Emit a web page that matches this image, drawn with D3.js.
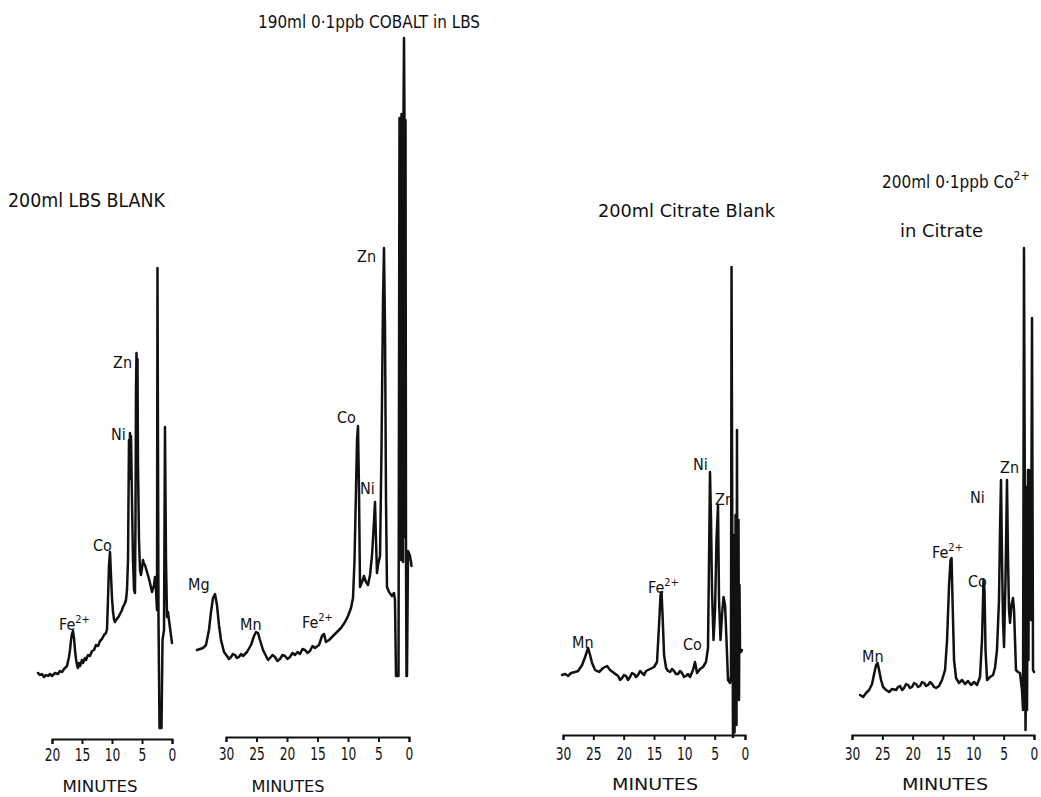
<!DOCTYPE html>
<html><head><meta charset="utf-8">
<script src="https://cdn.jsdelivr.net/npm/d3@7"></script>
<style>
body{margin:0;background:#fff;}
svg{display:block;background:#fff;}
text{font-family:"DejaVu Sans Condensed","Liberation Sans Narrow","DejaVu Sans",sans-serif;fill:#111;}
</style></head><body>
<svg id="chart" width="1041" height="797"></svg>
<script>
// ---------- DATA (retention time in minutes, detector signal in arbitrary units) ----------
const p1Minutes = [22.33,22.0,21.67,21.33,21.0,20.67,20.33,20.0,19.5,19.0,18.67,18.33,18.0,17.5,17.17,17.0,16.83,16.67,16.5,16.33,16.17,16.0,15.83,15.67,15.5,15.33,15.0,14.83,14.5,14.33,14.0,13.67,13.33,13.0,12.67,12.33,12.0,11.67,11.33,11.0,10.83,10.67,10.5,10.33,10.17,10.0,9.83,9.67,9.5,9.33,9.17,8.83,8.67,8.33,8.17,7.83,7.67,7.5,7.33,7.17,7.08,7.0,6.92,6.83,6.67,6.5,6.33,6.17,6.08,6.0,5.92,5.83,5.75,5.67,5.5,5.33,5.17,5.0,4.83,4.67,4.5,4.17,3.83,3.67,3.33,3.0,2.83,2.67,2.5,2.42,2.25,2.08,1.75,1.58,1.33,1.17,1.0,0.83,0.67,0.33,0.0];
const p1Signal  = [13.2,12.8,13.0,12.4,12.8,12.6,13.0,12.6,13.2,13.0,13.6,13.4,14.0,14.6,16.4,17.8,19.8,21.0,21.6,20.2,17.8,16.0,14.8,14.2,15.2,14.6,15.8,15.2,16.2,15.8,16.8,16.6,17.6,17.8,18.8,18.6,19.6,20.0,20.8,21.2,22.0,27.8,34.8,37.4,32.8,28.2,25.4,24.0,23.4,23.8,24.0,24.6,25.0,25.8,26.4,27.2,27.8,29.8,35.8,59.8,52.0,61.2,55.0,60.6,47.8,35.8,29.8,29.2,45.0,70.0,77.2,60.0,76.0,55.0,39.8,33.8,32.8,34.2,35.8,35.0,34.8,33.4,32.0,31.2,29.4,30.8,32.4,29.8,25.8,94.2,23.8,2.2,2.2,19.8,21.8,62.4,35.8,24.4,25.4,22.2,19.2];

const p2Minutes = [34.75,34.26,33.77,33.28,32.79,32.46,32.13,31.80,31.48,31.15,30.82,30.33,29.84,29.51,29.18,28.85,28.52,28.20,27.87,27.54,27.21,26.56,25.90,25.41,25.08,24.75,24.43,23.93,23.44,23.11,22.79,22.38,21.97,21.56,21.15,20.74,20.33,19.92,19.51,19.10,18.69,18.28,17.87,17.46,17.05,16.64,16.23,15.82,15.41,14.75,14.26,13.93,13.61,13.11,12.46,11.80,11.15,10.49,10.0,9.51,9.18,8.93,8.69,8.52,8.36,8.20,8.03,7.70,7.38,7.05,6.72,6.39,6.07,5.82,5.57,5.41,5.25,5.08,4.75,4.51,4.26,4.10,3.93,3.77,3.61,3.28,2.79,2.46,2.30,2.13,1.72,1.56,1.31,1.23,1.15,1.07,0.98,0.90,0.82,0.74,0.66,0.57,0.49,0.41,0.33,0.16,0.08,-0.16,-0.33,-0.41];
const p2Signal  = [17.4,17.6,17.8,18.4,21.4,25.0,27.8,28.6,26.4,22.4,19.4,17.0,16.2,15.6,16.0,16.6,16.4,15.8,16.0,16.6,16.2,17.0,18.4,20.2,21.0,20.8,19.4,17.4,16.2,15.4,15.8,16.4,16.0,15.2,15.6,16.4,16.2,15.6,16.0,16.8,16.4,17.0,16.6,17.6,17.4,16.8,17.2,18.2,17.8,18.4,20.2,20.6,19.0,19.4,20.2,21.0,21.8,23.0,24.2,25.8,27.8,35.4,49.4,59.4,62.2,49.6,30.0,31.0,32.2,31.0,30.4,32.4,36.2,41.4,47.0,39.4,32.8,34.4,36.2,57.4,87.4,97.8,81.4,47.4,30.0,29.0,28.2,28.8,27.4,12.2,12.2,123.8,35.4,124.6,40.0,123.8,35.0,124.2,139.8,123.4,40.0,123.4,35.4,12.2,12.2,37.2,37.0,36.2,35.0,34.2];

const p3Minutes = [30.15,29.65,29.16,28.67,28.01,27.51,26.85,26.36,25.86,25.54,25.21,24.71,24.05,23.39,22.73,22.24,21.58,20.92,20.59,20.26,19.93,19.60,19.28,18.95,18.62,18.29,17.96,17.63,17.30,16.97,16.64,16.31,15.65,14.99,14.50,14.17,13.92,13.76,13.59,13.34,13.01,12.69,12.36,12.03,11.70,11.37,11.04,10.71,10.38,10.05,9.72,9.39,9.06,8.57,8.24,7.91,7.41,6.92,6.43,6.10,5.93,5.77,5.60,5.44,5.19,4.94,4.70,4.45,4.28,4.04,3.79,3.54,3.29,3.05,2.80,2.47,2.31,2.22,2.06,1.98,1.89,1.81,1.73,1.65,1.56,1.48,1.40,1.32,1.24,1.15,1.07,0.99,0.91,0.82,0.66,0.49];
const p3Signal  = [12.0,12.2,11.8,12.4,12.6,12.8,14.0,15.6,17.4,16.0,14.4,13.0,12.6,13.4,13.8,13.0,12.4,11.8,11.0,11.4,12.0,11.8,11.0,11.6,12.4,12.2,11.6,12.0,12.8,12.4,12.0,12.8,13.2,13.6,14.6,22.0,28.0,28.6,24.0,16.0,13.4,12.8,12.6,13.2,12.8,12.2,12.2,12.8,12.4,11.6,11.8,12.2,11.6,13.0,14.6,12.4,13.2,13.6,14.6,17.4,35.0,52.6,43.0,29.0,19.0,25.0,39.0,46.0,27.0,19.0,24.0,27.6,26.0,19.0,11.0,10.4,11.8,93.6,27.0,-0.4,40.0,35.0,0.5,7.0,44.0,43.0,2.0,61.0,10.0,23.0,43.0,7.0,30.0,17.0,16.6,17.0];

const p4Minutes = [28.67,28.17,27.68,27.18,26.69,26.36,26.03,25.78,25.54,25.21,24.88,24.38,23.89,23.39,22.73,22.41,22.08,21.75,21.42,21.09,20.76,20.43,20.10,19.77,19.44,19.11,18.78,18.45,18.12,17.79,17.46,17.13,16.80,16.47,16.14,15.65,15.16,14.66,14.33,14.00,13.76,13.59,13.43,13.18,12.85,12.36,11.86,11.37,10.87,10.38,9.88,9.39,8.90,8.57,8.32,8.16,7.99,7.74,7.25,6.75,6.43,6.10,5.77,5.60,5.44,5.27,5.11,4.94,4.70,4.45,4.28,4.12,3.95,3.71,3.46,3.29,3.13,2.97,2.64,2.31,1.98,1.81,1.65,1.48,1.40,1.32,1.24,1.15,1.07,0.99,0.91,0.82,0.74,0.66,0.49,0.33,0.16,0.0];
const p4Signal  = [8.0,7.6,8.4,9.0,10.2,12.2,14.0,14.4,13.0,11.0,9.6,9.0,8.6,9.2,9.0,9.6,9.8,9.0,9.4,10.2,10.0,9.4,9.6,10.4,10.2,9.6,9.8,10.6,10.4,9.8,10.0,10.6,10.2,9.6,9.4,9.8,11.0,13.0,19.0,30.0,35.0,35.4,27.0,15.0,11.4,10.4,11.0,10.2,10.8,10.0,10.6,10.0,11.6,19.0,31.0,29.0,17.0,11.0,11.6,12.0,13.4,17.0,27.0,41.0,51.0,35.0,23.0,17.6,31.0,51.0,35.0,25.0,22.4,26.0,27.4,25.0,19.0,13.0,12.6,12.4,9.0,5.0,97.4,35.0,1.0,10.0,49.6,5.0,27.0,53.0,15.0,53.0,30.0,40.4,23.0,83.4,13.0,12.6];

const ticks20 = [20,15,10,5,0];
const ticks30 = [30,25,20,15,10,5,0];

// peak annotations: element, superscript charge, minutes, signal (anchor of label baseline-left)
const p1Peaks = ["Fe","Co","Ni","Zn"], p1Charge = ["2+","","",""], p1PeakMin = [18.83,13.17,10.17,9.83], p1PeakSig = [21.8,37.6,59.8,74.2];
const p2Peaks = ["Mg","Mn","Fe","Co","Ni","Zn"], p2Charge = ["","","2+","","",""], p2PeakMin = [36.23,27.70,17.54,11.80,8.03,8.52], p2PeakSig = [29.4,21.4,21.8,62.8,48.6,95.0];
const p3Peaks = ["Mn","Fe","Co","Ni","Zn"], p3Charge = ["","2+","","",""], p3PeakMin = [28.50,15.98,10.21,8.57,4.94], p3PeakSig = [17.4,28.4,17.0,53.0,46.0];
const p4Peaks = ["Mn","Fe","Co","Ni","Zn"], p4Charge = ["","2+","","",""], p4PeakMin = [28.34,16.80,10.87,10.54,5.60], p4PeakSig = [14.6,35.4,29.6,46.4,52.4];

const axisTitle = "MINUTES";

// ---------- LAYOUT ----------
const svg = d3.select("#chart");
const panels = [
  {minutes:p1Minutes, signal:p1Signal, ticks:ticks20, x0:52, x1:172, axisY:739, pad:5,
   peaks:p1Peaks, charge:p1Charge, pm:p1PeakMin, ps:p1PeakSig, axTitle:{cx:100, y:792, len:75}},
  {minutes:p2Minutes, signal:p2Signal, ticks:ticks30, x0:226, x1:409, axisY:737, pad:6,
   peaks:p2Peaks, charge:p2Charge, pm:p2PeakMin, ps:p2PeakSig, axTitle:{cx:288, y:792, len:73}},
  {minutes:p3Minutes, signal:p3Signal, ticks:ticks30, x0:563, x1:745, axisY:735, pad:7,
   peaks:p3Peaks, charge:p3Charge, pm:p3PeakMin, ps:p3PeakSig, axTitle:{cx:655, y:790, len:86}},
  {minutes:p4Minutes, signal:p4Signal, ticks:ticks30, x0:852, x1:1034, axisY:735, pad:7,
   peaks:p4Peaks, charge:p4Charge, pm:p4PeakMin, ps:p4PeakSig, axTitle:{cx:945, y:790, len:86}}
];

panels.forEach(p => {
  const domainMax = p.ticks[0];
  const x = d3.scaleLinear().domain([domainMax, 0]).range([p.x0, p.x1]);
  const y = d3.scaleLinear().domain([0, 140]).range([p.axisY, p.axisY - 700]);
  const g = svg.append("g");

  const data = p.minutes.map((m, i) => [m, p.signal[i]]);
  g.append("path")
    .datum(data)
    .attr("fill", "none")
    .attr("stroke", "#111")
    .attr("stroke-width", 2.5)
    .attr("stroke-linejoin", "round")
    .attr("stroke-linecap", "round")
    .attr("d", d3.line().x(d => x(d[0])).y(d => y(d[1])));

  const ax = g.append("g")
    .attr("transform", `translate(0,${p.axisY})`)
    .call(d3.axisBottom(x).tickValues(p.ticks).tickSize(5).tickPadding(p.pad).tickFormat(d3.format("d")));
  ax.select(".domain").attr("stroke", "#111").attr("stroke-width", 2);
  ax.selectAll(".tick line").attr("stroke", "#111").attr("stroke-width", 2);
  ax.selectAll(".tick text").attr("font-size", 16).attr("fill", "#111")
    .style("font-family", '"DejaVu Sans Condensed","DejaVu Sans",sans-serif')
    .attr("transform", "scale(0.85,1.05)");

  g.append("text")
    .attr("x", p.axTitle.cx).attr("y", p.axTitle.y)
    .attr("text-anchor", "middle")
    .attr("font-size", 16)
    .attr("textLength", p.axTitle.len).attr("lengthAdjust", "spacingAndGlyphs")
    .text(axisTitle);

  p.peaks.forEach((name, i) => {
    const t = g.append("text")
      .attr("x", x(p.pm[i])).attr("y", y(p.ps[i]))
      .attr("font-size", 16);
    t.append("tspan").text(name);
    if (p.charge[i]) {
      t.append("tspan").attr("font-size", 11).attr("dy", -7).text(p.charge[i]);
    }
  });
});

// titles
function title(txt, x, y, size, len) {
  const t = svg.append("text").attr("x", x).attr("y", y).attr("font-size", size).text(txt);
  if (len) t.attr("textLength", len).attr("lengthAdjust", "spacingAndGlyphs");
  return t;
}
title("200ml LBS BLANK", 8, 207, 19, 157);
title("190ml 0·1ppb COBALT in LBS", 258, 28, 18, 222);
title("200ml  Citrate Blank", 598, 217, 17, 177);
const t4 = svg.append("text").attr("x", 882).attr("y", 188).attr("font-size", 17);
t4.append("tspan").text("200ml 0·1ppb Co");
t4.append("tspan").attr("font-size", 12).attr("dy", -8).text("2+");
title("in Citrate", 900, 237, 17, 83);
</script>
</body></html>
